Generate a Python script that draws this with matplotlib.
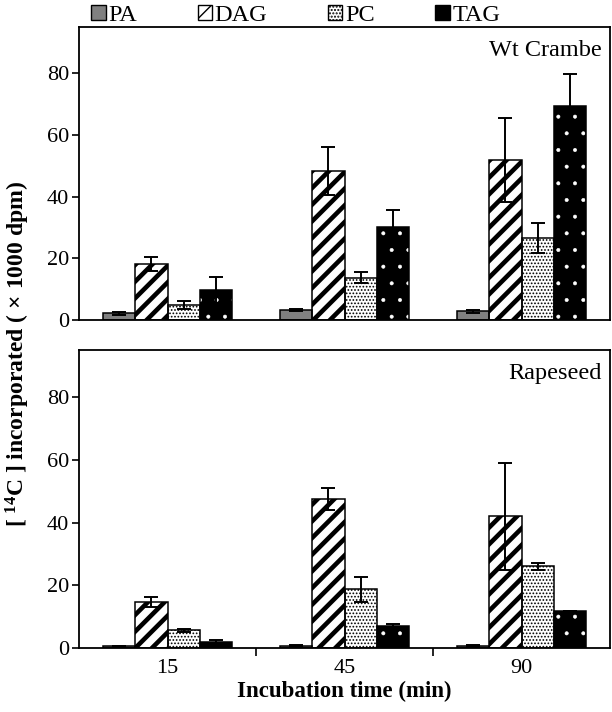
import matplotlib
matplotlib.use("Agg")
import matplotlib.pyplot as plt
from matplotlib.patches import Patch
import numpy as np

plt.rcParams['font.family'] = ['Liberation Serif', 'DejaVu Serif']
plt.rcParams['mathtext.fontset'] = 'custom'
plt.rcParams['mathtext.rm'] = 'Liberation Serif'
plt.rcParams['mathtext.bf'] = 'Liberation Serif:bold'
plt.rcParams['mathtext.default'] = 'bf'

times = ['15', '45', '90']
lipids = ['PA', 'DAG', 'PC', 'TAG']

# Wt Crambe, means and errors for PA, DAG, PC, TAG at each time
crambe_pa = [2.2, 3.3, 2.8]
crambe_dag = [18.1, 48.2, 51.8]
crambe_pc = [4.8, 13.7, 26.6]
crambe_tag = [9.7, 30.3, 69.5]
crambe_pa_err = [0.5, 0.3, 0.5]
crambe_dag_err = [2.3, 7.8, 13.7]
crambe_pc_err = [1.3, 1.8, 5.0]
crambe_tag_err = [4.2, 5.5, 10.1]

# Rapeseed
rape_pa = [0.5, 0.7, 0.6]
rape_dag = [14.7, 47.5, 42.0]
rape_pc = [5.7, 18.7, 26.0]
rape_tag = [2.0, 7.0, 11.9]
rape_pa_err = [0.2, 0.2, 0.2]
rape_dag_err = [1.5, 3.5, 17.0]
rape_pc_err = [0.5, 4.0, 1.1]
rape_tag_err = [0.4, 0.7, 0.0]


def hatched_bar(ax, x, h, w, face, hatch_col, hatch, hlw, lw=1.1):
    with plt.rc_context({'hatch.linewidth': hlw}):
        bars = ax.bar(x, h, w, color=face, edgecolor=hatch_col, hatch=hatch,
                      linewidth=0, zorder=2)
    for b in bars:
        if hasattr(b, 'set_hatch_linewidth'):
            b.set_hatch_linewidth(hlw)
    ax.bar(x, h, w, fill=False, edgecolor='black', linewidth=lw, zorder=3)


def panel(ax, series, errors, title):
    x = np.arange(len(times))
    w = 0.183
    offs = np.array([-1.5, -0.5, 0.5, 1.5]) * w
    styles = [('#808080', 'black', '', 1.0),
              ('white', 'black', '//', 3.3),
              ('white', 'black', '.....', 0.8),
              ('black', 'white', '.', 0.4)]
    for vals, errs, off, st in zip(series, errors, offs, styles):
        hatched_bar(ax, x + off, vals, w, st[0], st[1], st[2], st[3])
        ax.errorbar(x + off, vals, yerr=errs, fmt='none', ecolor='black',
                    elinewidth=1.4, capsize=4.7, capthick=1.4, zorder=4)
    ax.set_xlim(-0.5, 2.5)
    ax.set_ylim(0, 95)
    ax.set_yticks([0, 20, 40, 60, 80])
    ax.tick_params(axis='y', direction='out', length=5, width=1.2,
                   labelsize=16, pad=2)
    for s in ax.spines.values():
        s.set_linewidth(1.3)
    ax.text(0.985, 0.955, title, transform=ax.transAxes, ha='right',
            va='top', fontsize=17.5)


fig = plt.figure(figsize=(6.12, 7.12), dpi=100)
ax1 = fig.add_axes([79 / 612, 1 - 320 / 712, 531 / 612, 293 / 712])
ax2 = fig.add_axes([79 / 612, 1 - 648 / 712, 531 / 612, 298 / 712])

panel(ax1, [crambe_pa, crambe_dag, crambe_pc, crambe_tag],
      [crambe_pa_err, crambe_dag_err, crambe_pc_err, crambe_tag_err],
      'Wt Crambe')
panel(ax2, [rape_pa, rape_dag, rape_pc, rape_tag],
      [rape_pa_err, rape_dag_err, rape_pc_err, rape_tag_err],
      'Rapeseed')

ax1.set_xticks([])
ax2.set_xticks(np.arange(len(times)))
ax2.set_xticklabels(times)
ax2.tick_params(axis='x', length=0, labelsize=16, pad=8)
ax2.set_xticks([0.5, 1.5], minor=True)
ax2.tick_params(axis='x', which='minor', direction='out', length=6, width=1.2)
ax2.set_xlabel('Incubation time (min)', fontsize=16.5, fontweight='bold',
               labelpad=2)

fig.text(0.029, 0.503, r'[ $^{14}$C ] incorporated ( $\times$ 1000 dpm)',
         rotation=90, ha='center', va='center', fontsize=17,
         fontweight='bold')

handles = [Patch(facecolor='#808080', edgecolor='black', linewidth=1.0),
           Patch(facecolor='white', edgecolor='black', hatch='//', linewidth=1.0),
           Patch(facecolor='white', edgecolor='black', hatch='.....', linewidth=1.0),
           Patch(facecolor='black', edgecolor='black', linewidth=1.0)]
fig.legend(handles, lipids, loc='upper center', bbox_to_anchor=(0.483, 1.024),
           ncol=4, frameon=False, fontsize=17.5, handlelength=0.6,
           handleheight=0.6, handletextpad=0.1, columnspacing=2.5)

fig.savefig('out.png', dpi=100)
